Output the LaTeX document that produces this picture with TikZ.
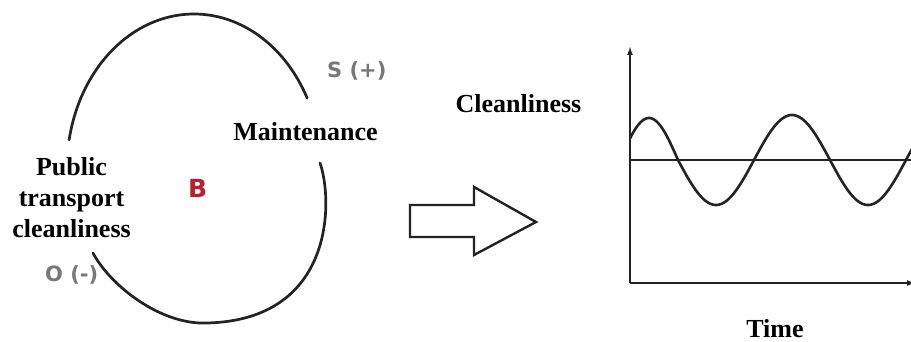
\documentclass[tikz,border=0pt]{standalone}
\usepackage{fontspec}
\setmainfont{Liberation Serif}
\newfontfamily\labelfont{DejaVu Sans}
\usetikzlibrary{arrows.meta}
\definecolor{inkc}{RGB}{35,35,35}
\definecolor{signgrey}{RGB}{120,120,120}
\definecolor{loopred}{RGB}{180,35,45}
\tikzset{
  loopline/.style={line width=2.7pt, draw=inkc, line cap=round},
  axisline/.style={line width=2.4pt, draw=inkc},
  bigtext/.style={font=\fontsize{26}{31}\selectfont\bfseries, inner sep=0pt, text=black},
  signtext/.style={font=\labelfont\fontsize{21}{24}\selectfont\bfseries, inner sep=0pt, text=signgrey, anchor=base west},
}
\begin{document}
\begin{tikzpicture}[x=1pt,y=-1pt]
\clip (0,0) rectangle (911,342);
\fill[white] (0,0) rectangle (911,342);
% causal loop
\coordinate (loA) at (320,163);
\coordinate (loB) at (207,323);
\coordinate (loC) at (93,253);
\draw[loopline] plot[domain=27:169.5, samples=90] ({194+127*cos(\x)},{168-154*sin(\x)});
\draw[loopline] (loA) .. controls (333,200) and (335,320) .. (loB) .. controls (160,325) and (110,285) .. (loC);
\node[bigtext, anchor=base] (maint) at (305.5,140.7) {Maintenance};
\node[bigtext, anchor=base, align=center] (ptc) at (71.5,237) {Public\\transport\\cleanliness};
\node[font=\labelfont\fontsize{25}{28}\selectfont\bfseries, inner sep=0pt, text=loopred, anchor=base west] (B) at (188,198) {B};
\node[signtext] (S) at (327,78) {S (+)};
\node[signtext] (O) at (45,281) {O (-)};
% hollow arrow
\draw[line width=2.4pt, draw=inkc, line join=miter] (410,205) -- (474,205) -- (474,187) -- (536,222) -- (474,255) -- (474,237) -- (410,237) -- cycle;
% chart
\coordinate (orig) at (630,283);
\coordinate (ytop) at (630,46);
\coordinate (xend) at (916,283);
\coordinate (hl0) at (630,160);
\coordinate (hl1) at (916,160);
\draw[axisline, -{Latex[length=9pt,width=6pt]}] (orig) -- (ytop);
\draw[axisline, -{Latex[length=9pt,width=6pt]}] (orig) -- (xend);
\draw[axisline] (hl0) -- (hl1);
\draw[line width=2.6pt, draw=inkc] plot[domain=630:678, samples=40] (\x,{160-42*sin((\x-620)/58*180)}) -- plot[domain=678:915, samples=150] (\x,{160+45*sin((\x-678)/76*180)});
\node[bigtext, anchor=base] (clean) at (518.5,113) {Cleanliness};
\node[bigtext, anchor=base] (time) at (775,337) {Time};
\end{tikzpicture}
\end{document}
